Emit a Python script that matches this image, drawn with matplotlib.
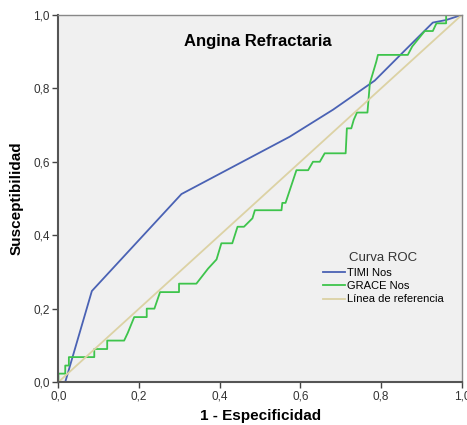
import matplotlib

matplotlib.use("Agg")
import matplotlib.pyplot as plt
from matplotlib.ticker import FuncFormatter

plt.rcParams["font.family"] = ["Liberation Sans", "DejaVu Sans"]

# TIMI Nos ROC curve
timi_fpr = [0.0, 0.017, 0.083, 0.305, 0.573, 0.681, 0.784, 0.854, 0.928, 0.961, 1.0]
timi_tpr = [0.0, 0.0, 0.248, 0.512, 0.668, 0.742, 0.821, 0.898, 0.979, 0.986, 1.0]

# GRACE Nos ROC curve (stepwise)
grace_fpr = [
    0.0, 0.0, 0.017, 0.017, 0.026, 0.026, 0.089, 0.089, 0.121, 0.121,
    0.163, 0.172, 0.188, 0.219, 0.219, 0.238, 0.252, 0.299, 0.299, 0.342,
    0.371, 0.392, 0.404, 0.431, 0.444, 0.46, 0.481, 0.487, 0.553, 0.555,
    0.563, 0.59, 0.619, 0.631, 0.648, 0.66, 0.712, 0.715, 0.726, 0.732,
    0.74, 0.766, 0.772, 0.788, 0.792, 0.866, 0.877, 0.908, 0.928, 0.937,
    0.961, 0.961, 1.0,
]
grace_tpr = [
    0.0, 0.023, 0.023, 0.045, 0.045, 0.068, 0.068, 0.09, 0.09, 0.113,
    0.113, 0.134, 0.177, 0.177, 0.2, 0.2, 0.245, 0.245, 0.268, 0.268,
    0.309, 0.334, 0.378, 0.378, 0.423, 0.423, 0.446, 0.468, 0.468, 0.488,
    0.488, 0.577, 0.577, 0.6, 0.6, 0.623, 0.623, 0.691, 0.691, 0.714,
    0.734, 0.734, 0.814, 0.873, 0.891, 0.891, 0.914, 0.956, 0.956, 0.977,
    0.977, 1.0, 1.0,
]

ref_x = [0.0, 1.0]
ref_y = [0.0, 1.0]

figure = plt.figure(figsize=(4.67, 4.25), dpi=100)
figure.patch.set_facecolor("white")
ax = figure.add_axes([0.125, 0.101, 0.864, 0.864])
ax.set_facecolor("#f0f0f0")

ax.plot(timi_fpr, timi_tpr, color="#4a62b4", linewidth=1.3, label="TIMI Nos")
ax.plot(grace_fpr, grace_tpr, color="#3ec44c", linewidth=1.3, label="GRACE Nos")
ax.plot(ref_x, ref_y, color="#dcd2a4", linewidth=1.3, label="Línea de referencia")

ax.set_xlim(0, 1)
ax.set_ylim(0, 1)
ticks = [0.0, 0.2, 0.4, 0.6, 0.8, 1.0]
ax.set_xticks(ticks)
ax.set_yticks(ticks)
comma = FuncFormatter(lambda v, _: f"{v:.1f}".replace(".", ","))
ax.xaxis.set_major_formatter(comma)
ax.yaxis.set_major_formatter(comma)
ax.tick_params(direction="out", length=4, width=1, colors="#444444",
               labelsize=8.5, labelcolor="#333333", pad=2)

for side in ("left", "bottom"):
    ax.spines[side].set_color("#555555")
    ax.spines[side].set_linewidth(1.5)
for side in ("top", "right"):
    ax.spines[side].set_color("#888888")
    ax.spines[side].set_linewidth(1.0)

ax.set_xlabel("1 - Especificidad", fontsize=11, fontweight="bold", labelpad=5)
ax.set_ylabel("Susceptibilidad", fontsize=11, fontweight="bold", labelpad=7)
ax.text(0.495, 0.927, "Angina Refractaria", transform=ax.transAxes,
        ha="center", va="center", fontsize=12, fontweight="bold")

legend = ax.legend(
    title="Curva ROC",
    loc="upper left",
    bbox_to_anchor=(0.645, 0.365),
    frameon=False,
    fontsize=8,
    title_fontsize=9.5,
    handlelength=2.0,
    handletextpad=0.15,
    labelspacing=0.3,
    borderaxespad=0,
)
legend.get_title().set_color("#333333")

figure.savefig("out.png", dpi=100)
plt.close(figure)
